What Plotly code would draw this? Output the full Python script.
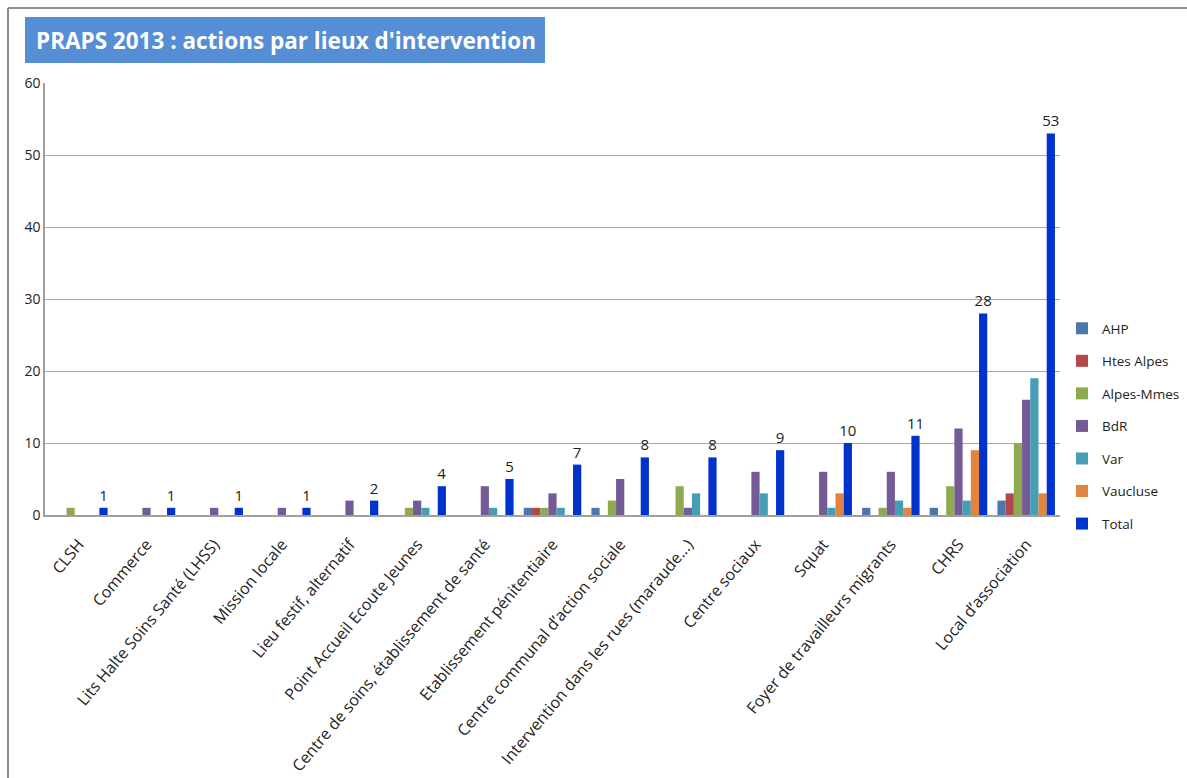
import plotly.graph_objects as go

categories = [
    "CLSH", "Commerce", "Lits Halte Soins Santé (LHSS)", "Mission locale",
    "Lieu festif, alternatif", "Point Accueil Ecoute Jeunes",
    "Centre de soins, établissement de santé", "Etablissement pénitentiaire",
    "Centre communal d’action sociale", "Intervention dans les rues (maraude...)",
    "Centre sociaux", "Squat", "Foyer de travailleurs migrants", "CHRS",
    "Local d’association",
]
ahp       = [0, 0, 0, 0, 0, 0, 0, 1, 1, 0, 0, 0, 1, 1, 2]
htes      = [0, 0, 0, 0, 0, 0, 0, 1, 0, 0, 0, 0, 0, 0, 3]
alpes     = [1, 0, 0, 0, 0, 1, 0, 1, 2, 4, 0, 0, 1, 4, 10]
bdr       = [0, 1, 1, 1, 2, 2, 4, 3, 5, 1, 6, 6, 6, 12, 16]
var       = [0, 0, 0, 0, 0, 1, 1, 1, 0, 3, 3, 1, 2, 2, 19]
vaucluse  = [0, 0, 0, 0, 0, 0, 0, 0, 0, 0, 0, 3, 1, 9, 3]
total     = [1, 1, 1, 1, 2, 4, 5, 7, 8, 8, 9, 10, 11, 28, 53]

series_names = ["AHP", "Htes Alpes", "Alpes-Mmes", "BdR", "Var", "Vaucluse", "Total"]
series_values = [ahp, htes, alpes, bdr, var, vaucluse, total]
colors = ["#4A78AE", "#B5474A", "#8DAA4F", "#745B95", "#449FB5", "#E2843D", "#0033CC"]

W, H = 1187, 778
ml, mr, mt, mb = 45, 127, 83, 263
pw, ph = W - ml - mr, H - mt - mb

def px2x(px):
    return (px - ml) / pw

def py2y(py):
    return (H - mb - py) / ph

fig = go.Figure()
for name, vals, col in zip(series_names, series_values, colors):
    is_total = name == "Total"
    fig.add_trace(go.Bar(
        name=name, x=categories, y=vals, legendgroup=name,
        marker=dict(color=col, line=dict(width=0)),
        text=[str(v) for v in vals] if is_total else None,
        textposition="outside" if is_total else None,
        constraintext="none",
        textfont=dict(family="Open Sans", size=15, color="#222222"),
        cliponaxis=False,
    ))

fig.update_layout(
    width=W, height=H,
    margin=dict(l=ml, r=mr, t=mt, b=mb, autoexpand=False),
    paper_bgcolor="white", plot_bgcolor="white",
    barmode="group", bargap=0.15, bargroupgap=0,
    font=dict(family="Open Sans", size=13, color="#222222"),
    xaxis=dict(
        tickangle=-50, showline=True, linecolor="#A0A0A0", linewidth=1.5,
        showgrid=False, ticks="", ticklabelstandoff=12,
        tickfont=dict(size=16, color="#222222"),
    ),
    yaxis=dict(
        range=[0, 60], dtick=10, showline=True, linecolor="#A0A0A0", linewidth=1.5,
        showgrid=True, gridcolor="#A8A8A8", gridwidth=1, zeroline=False,
        ticks="", tickfont=dict(size=14, color="#222222"),
    ),
    legend=dict(
        x=px2x(1062), y=py2y(313), xanchor="left", yanchor="top",
        font=dict(size=13.5, color="#222222"), tracegroupgap=12,
        itemwidth=30, traceorder="grouped", bgcolor="rgba(0,0,0,0)",
    ),
    showlegend=True,
)

# title box
fig.add_shape(type="rect", xref="paper", yref="paper",
              x0=px2x(25), x1=px2x(545), y0=py2y(63), y1=py2y(17),
              fillcolor="#558ED5", line=dict(width=0), layer="above")
fig.add_annotation(xref="paper", yref="paper", x=px2x(286), y=py2y(40),
                   xanchor="center", yanchor="middle", showarrow=False,
                   text="<b>PRAPS 2013 : actions par lieux d'intervention</b>",
                   font=dict(family="Open Sans", size=22.5, color="white"))

# outer frame (left and top edges)
fig.add_shape(type="line", xref="paper", yref="paper",
              x0=px2x(8), x1=px2x(8), y0=py2y(8), y1=py2y(H + 5),
              line=dict(color="#8C8C8C", width=2))
fig.add_shape(type="line", xref="paper", yref="paper",
              x0=px2x(8), x1=px2x(W + 5), y0=py2y(8), y1=py2y(8),
              line=dict(color="#8C8C8C", width=2))

fig.write_html("out.html", config={"displayModeBar": False},
               post_script="document.body.style.margin='0px';document.body.style.overflow='hidden';")
